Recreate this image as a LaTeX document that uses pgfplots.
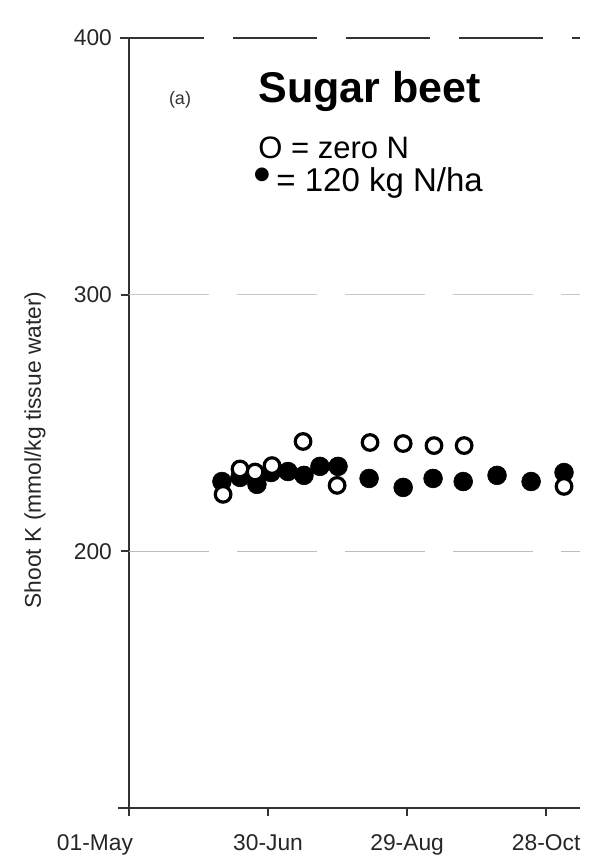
\documentclass[border=0pt]{standalone}
\usepackage{pgfplots}
\pgfplotsset{compat=1.18}
\usepackage{fontspec}
\setmainfont{Liberation Sans}
\newfontfamily\djv{DejaVu Sans}
\definecolor{axgray}{HTML}{333333}
\definecolor{gridgray}{HTML}{C8C8C8}
\begin{document}
\begin{tikzpicture}
\useasboundingbox (-64.5pt,-29pt) rectangle (230.5pt,404pt);
\begin{axis}[
  at={(0,0)}, anchor=south west,
  scale only axis, width=225.5pt, height=385pt,
  xmin=0, xmax=194.6, ymin=100, ymax=400,
  axis x line=bottom, axis y line=left,
  axis line style={-, draw=axgray, line width=0.9pt},
  xtick={0,60,120,180}, xticklabels={\makebox[0pt][r]{01-May\hspace*{-2pt}},30-Jun,29-Aug,28-Oct},
  ytick={200,300,400},
  tick align=outside, major tick length=4pt,
  tick style={draw=axgray, line width=0.9pt},
  ticklabel style={font=\fontsize{11.4}{13}\selectfont, text=black!85},
  xticklabel style={yshift=-6pt},
  yticklabel style={xshift=-1pt},
  /pgf/number format/assume math mode=true,
  clip=false,
]
% grid lines
\draw[gridgray, line width=0.6pt, dash pattern=on 40pt off 14pt] (axis cs:0,300) -- (axis cs:194.6,300);
\draw[gridgray!120, line width=0.6pt, dash pattern=on 40pt off 14pt] (axis cs:0,200) -- (axis cs:194.6,200);
\draw[axgray, line width=0.7pt, dash pattern=on 42pt off 14.5pt] (axis cs:-4,400) -- (axis cs:194.6,400);
% axis extensions
\draw[axgray, line width=0.9pt] (axis cs:-4.7,100) -- (axis cs:0,100);
\draw[axgray, line width=0.9pt] (axis cs:0,100) -- (axis cs:0,97.5);
% 120 kg N/ha (filled)
\addplot[only marks, mark=*, mark size=4.7pt, mark options={fill=black, draw=black, line width=0.3pt}] coordinates {
(40.1,227.2) (47.9,228.8) (55.2,226.1) (61.3,230.7) (68.6,231.1) (75.5,229.6)
(82.4,233.1) (90.2,233.1) (103.6,228.4) (118.3,224.9) (131.2,228.4) (144.2,227.2)
(158.8,229.6) (173.5,227.2) (187.7,230.7)
};
% zero N (open)
\addplot[only marks, mark=*, mark size=3.9pt, mark options={fill=white, draw=black, line width=1.6pt}] coordinates {
(40.6,222.2) (47.9,232.1) (54.4,230.9) (61.7,233.4) (75.1,242.8) (89.8,225.7)
(104.0,242.4) (118.3,242.0) (131.6,241.2) (144.6,241.2) (187.7,225.3)
};
\end{axis}
\node[font=\fontsize{9}{10}\selectfont, text=black!80] at (25.5pt,354pt) {(a)};
\node[anchor=base west, inner sep=0pt, font=\fontsize{21.5}{24}\selectfont\bfseries] at (64.5pt,352.5pt) {Sugar beet};
\node[anchor=base west, inner sep=0pt, font=\fontsize{15.5}{18}\selectfont] at (64.5pt,324.5pt) {O = zero N};
\node[inner sep=0pt, font=\fontsize{9}{10}\selectfont\djv] at (66.5pt,316.5pt) {●};
\node[anchor=base west, inner sep=0pt, font=\fontsize{16.5}{19}\selectfont] at (73.5pt,308pt) {= 120 kg N/ha};
\node[rotate=90, inner sep=0pt, font=\fontsize{11.4}{13}\selectfont, text=black!85] at (-47pt,179pt) {Shoot K (mmol/kg tissue water)};
\end{tikzpicture}
\end{document}
